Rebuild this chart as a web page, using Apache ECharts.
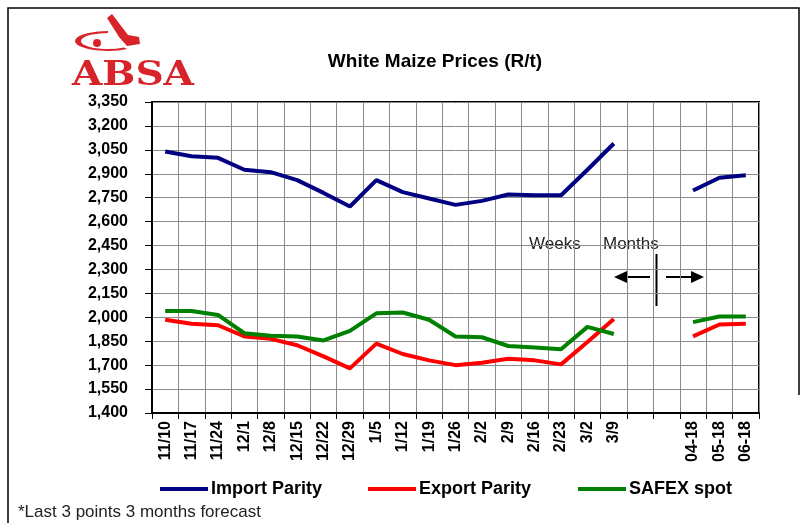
<!doctype html>
<html lang="en">
<head>
<meta charset="UTF-8"/>
<title>White Maize Prices</title>
<script src="https://cdn.jsdelivr.net/npm/echarts@6/dist/echarts.min.js"></script>
<style>
	html, body { margin: 0; padding: 0; background: #fff; }
	#main { width: 805px; height: 523px; }
</style>
</head>
<body>
<div id="main"></div>
<script type="text/javascript">
// weekly points, then two empty slots, then the 3 monthly forecast points
var categories = ['11/10', '11/17', '11/24', '12/1', '12/8', '12/15', '12/22', '12/29',
	'1/5', '1/12', '1/19', '1/26', '2/2', '2/9', '2/16', '2/23', '3/2', '3/9',
	'', ' ', '04-18', '05-18', '06-18'];
var importParity = [3040, 3010, 3000, 2925, 2910, 2860, 2780, 2695, 2860, 2785, 2745, 2705,
	2730, 2770, 2765, 2765, 2925, 3090, null, null, 2795, 2875, 2890];
var exportParity = [1985, 1960, 1950, 1880, 1865, 1825, 1755, 1680, 1835, 1770, 1730, 1700,
	1715, 1740, 1730, 1705, 1845, 1990, null, null, 1880, 1955, 1960];
var safexSpot = [2040, 2040, 2015, 1900, 1885, 1880, 1855, 1915, 2025, 2030, 1985, 1880,
	1875, 1820, 1810, 1800, 1940, 1895, null, null, 1970, 2005, 2005];
var yTicks = [1400, 1550, 1700, 1850, 2000, 2150, 2300, 2450, 2600, 2750, 2900, 3050, 3200, 3350];

var seriesNames = ['Import Parity', 'Export Parity', 'SAFEX spot'];
var seriesColors = ['#000080', '#ff0000', '#008000'];
var seriesData = [importParity, exportParity, safexSpot];
var legendLeft = [155, 363, 573];

var myChart = echarts.init(document.getElementById('main'));

var legendStyle = function (i) {
	return {
		data: [seriesNames[i]],
		left: legendLeft[i],
		top: 475,
		icon: 'rect',
		itemWidth: 48,
		itemHeight: 4,
		itemGap: 0,
		textStyle: { fontFamily: 'Arial', fontWeight: 'bold', fontSize: 18, color: '#000', padding: [0, 0, 0, -2] }
	};
};

var option = {
	animation: false,
	backgroundColor: '#fff',
	title: {
		text: 'White Maize Prices (R/t)',
		left: 430,
		textAlign: 'center',
		top: 47,
		textStyle: { fontFamily: 'Arial', fontWeight: 'bold', fontSize: 19, color: '#000' }
	},
	legend: [legendStyle(0), legendStyle(1), legendStyle(2)],
	grid: {
		left: 152,
		top: 102,
		right: 46,
		bottom: 110,
		show: true,
		borderColor: '#000',
		borderWidth: 2
	},
	xAxis: {
		type: 'category',
		data: categories,
		boundaryGap: true,
		axisLine: { lineStyle: { color: '#000', width: 2 } },
		axisTick: { show: true, length: 6, lineStyle: { color: '#000', width: 1 } },
		splitLine: { show: true, lineStyle: { color: '#8c8c8c', width: 1 } },
		axisLabel: {
			interval: 0,
			rotate: 90,
			margin: 8,
			fontFamily: 'Arial',
			fontWeight: 'bold',
			fontSize: 16,
			color: '#000'
		}
	},
	yAxis: {
		type: 'value',
		min: 1400,
		max: 3350,
		axisLine: { show: true, lineStyle: { color: '#000', width: 2 } },
		axisTick: { show: true, length: 7, customValues: yTicks, lineStyle: { color: '#000' } },
		splitLine: { show: true, lineStyle: { color: '#8c8c8c', width: 1 } },
		axisLabel: {
			customValues: yTicks,
			margin: 24,
			fontFamily: 'Arial',
			fontWeight: 'bold',
			fontSize: 16,
			color: '#000',
			formatter: function (v) { return v.toLocaleString('en-US'); }
		}
	},
	series: seriesNames.map(function (name, i) {
		return {
			name: name,
			type: 'line',
			data: seriesData[i],
			symbol: 'none',
			connectNulls: false,
			color: seriesColors[i],
			lineStyle: { width: 4, color: seriesColors[i] }
		};
	}),
	graphic: [
		// outer frame
		{ type: 'polyline', shape: { points: [[8, 523], [8, 8], [799, 8], [799, 395]] }, style: { stroke: '#000', lineWidth: 1.5, fill: null } },
		// ABSA logo
		{ type: 'arc', x: 108, y: 41, scaleY: 0.3, shape: { cx: 0, cy: 0, r: 30, startAngle: Math.PI * 0.3, endAngle: Math.PI * 1.5 }, style: { stroke: '#d8232a', lineWidth: 6, fill: null } },
		{ type: 'circle', shape: { cx: 97, cy: 43, r: 4 }, style: { fill: '#d8232a' } },
		{ type: 'polygon', shape: { points: [[107, 18], [112, 14], [128, 35], [139, 37], [140, 44], [127, 46], [119, 37]] }, style: { fill: '#d8232a' } },
		{ type: 'text', x: 72, y: 76, scaleX: 1.15, style: { text: 'ABSA', font: 'bold 34px "DejaVu Serif"', fill: '#d8232a', verticalAlign: 'middle', align: 'left' } },
		// weeks / months annotation
		{ type: 'text', x: 529, y: 244, style: { text: 'Weeks', font: '17px Arial', fill: '#222', verticalAlign: 'middle' } },
		{ type: 'text', x: 603, y: 244, style: { text: 'Months', font: '17px Arial', fill: '#222', verticalAlign: 'middle' } },
		{ type: 'line', shape: { x1: 656.5, y1: 254, x2: 656.5, y2: 306 }, style: { stroke: '#000', lineWidth: 2 } },
		{ type: 'line', shape: { x1: 650, y1: 277, x2: 624, y2: 277 }, style: { stroke: '#000', lineWidth: 2 } },
		{ type: 'polygon', shape: { points: [[614, 277], [627, 271], [627, 283]] }, style: { fill: '#000' } },
		{ type: 'line', shape: { x1: 666, y1: 277, x2: 693, y2: 277 }, style: { stroke: '#000', lineWidth: 2 } },
		{ type: 'polygon', shape: { points: [[704, 277], [691, 271], [691, 283]] }, style: { fill: '#000' } },
		// footnote
		{ type: 'text', x: 18, y: 512, style: { text: '*Last 3 points 3 months forecast', font: '17px Arial', fill: '#222', verticalAlign: 'middle' } }
	]
};

myChart.setOption(option);
</script>
</body>
</html>
